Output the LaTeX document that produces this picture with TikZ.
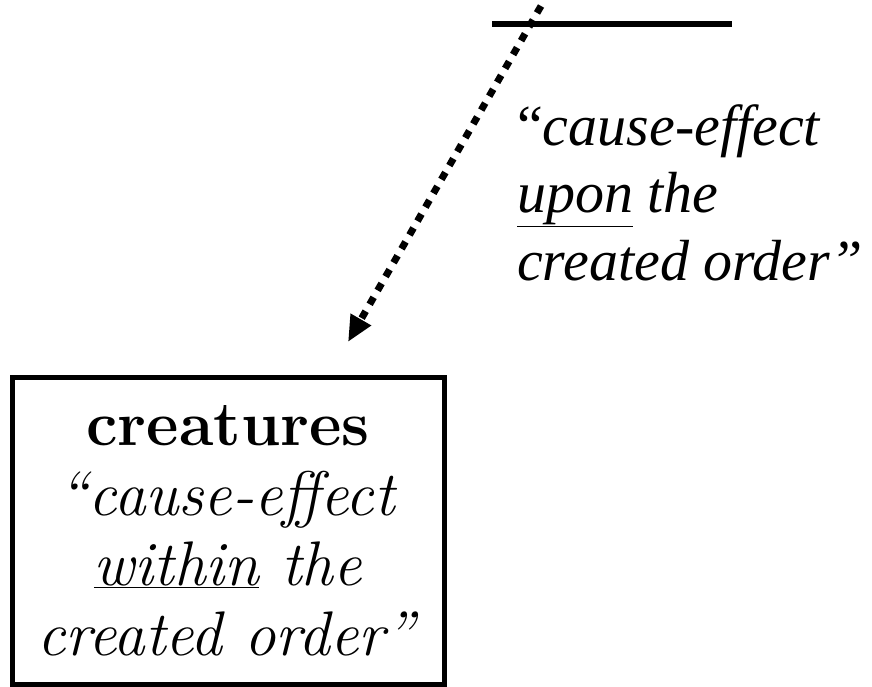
\documentclass[tikz,border=0pt]{standalone}
\usepackage{fontspec}
\newfontfamily\timesfont[Ligatures=TeX]{Liberation Serif}
\usetikzlibrary{arrows.meta}

\begin{document}
\begin{tikzpicture}[x=1pt,y=-1pt,
    boxnode/.style={draw=black, line width=5pt, minimum width=432pt, minimum height=307pt, inner sep=0pt, align=center,
      font=\fontsize{63}{70}\selectfont},
    saynode/.style={inner sep=0pt, align=left, anchor=base west,
      font=\timesfont\fontsize{58}{67.5}\selectfont},
    causearrow/.style={line width=7pt, dash pattern=on 8pt off 8pt, -{Triangle[length=26pt,width=22pt]}}
    ]
    \useasboundingbox (0,0) rectangle (872,687);

    \coordinate (l1) at (492,24);
    \coordinate (l2) at (732,24);
    \draw [line width=6pt] (l1) -- (l2);

    \coordinate (top) at (541,6);
    \node [boxnode] (creatures) at (228,530.5)
      {\textbf{creatures}\\ \textit{``cause-effect}\\ \textit{\underline{within} the}\\ \textit{created order''}};

    % base anchor sits on the last line
    \node [saynode] (upon) at (517,280)
      {``\textit{cause-effect}\\ \textit{\underline{upon} the}\\ \textit{created order''}};

    \coordinate (tip) at (348,342);
    \draw [causearrow] (top) -- (tip);
\end{tikzpicture}
\end{document}
